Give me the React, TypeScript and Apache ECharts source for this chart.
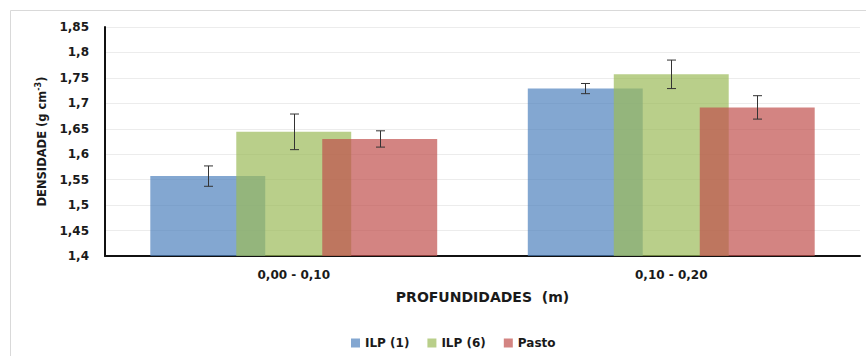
import React, { useEffect, useRef } from "react";
import * as echarts from "echarts";

const categories = ["0,00 - 0,10", "0,10 - 0,20"];
const seriesNames = ["ILP (1)", "ILP (6)", "Pasto"];
const ilp1 = [1.557, 1.729];
const ilp1Err = [0.02, 0.01];
const ilp6 = [1.644, 1.757];
const ilp6Err = [0.035, 0.028];
const pasto = [1.63, 1.692];
const pastoErr = [0.016, 0.023];
const yTicks = { min: 1.4, max: 1.85, interval: 0.05 };

const colors = ["rgba(79,129,189,0.7)", "rgba(155,187,89,0.7)", "rgba(192,80,77,0.7)"];
const FONT = "DejaVu Sans";
const CAT_GAP = 0.24;
const BAR_GAP = -0.252;

export default function App() {
  const ref = useRef<HTMLDivElement>(null);
  useEffect(() => {
    if (!ref.current) return;
    const chart = echarts.init(ref.current, undefined, { renderer: "svg" });
    const values = [ilp1, ilp6, pasto];
    const errs = [ilp1Err, ilp6Err, pastoErr];
    const errData: number[][] = [];
    values.forEach((vals, k) => {
      vals.forEach((v, i) => {
        errData.push([i, v - errs[k][i], v + errs[k][i], k]);
      });
    });
    chart.setOption({
      animation: false,
      backgroundColor: "#fff",
      textStyle: { fontFamily: FONT },
      grid: { left: 105, right: 6, top: 27, bottom: 100, containLabel: false },
      graphic: [
        { type: "line", shape: { x1: 10.5, y1: 10.5, x2: 866, y2: 10.5 }, style: { stroke: "#d9d9d9", lineWidth: 1 } },
        { type: "line", shape: { x1: 10.5, y1: 10.5, x2: 10.5, y2: 356 }, style: { stroke: "#d9d9d9", lineWidth: 1 } },
      ],
      legend: {
        data: seriesNames,
        left: 346,
        top: 332,
        itemWidth: 9,
        itemHeight: 9,
        itemGap: 18,
        icon: "rect",
        textStyle: { fontFamily: FONT, fontWeight: "bold", fontSize: 12, color: "#1a1a1a" },
      },
      xAxis: {
        type: "category",
        data: categories,
        name: "PROFUNDIDADES  (m)",
        nameLocation: "middle",
        nameGap: 34,
        nameTextStyle: { fontFamily: FONT, fontWeight: "bold", fontSize: 14, color: "#1a1a1a" },
        axisLine: { lineStyle: { color: "#111", width: 2 } },
        axisTick: { show: false },
        axisLabel: { fontFamily: FONT, fontWeight: "bold", fontSize: 12, color: "#1a1a1a", margin: 13 },
      },
      yAxis: {
        type: "value",
        min: yTicks.min,
        max: yTicks.max,
        interval: yTicks.interval,
        name: "{a|DENSIDADE (g cm}{s|-3}{a|)}",
        nameLocation: "middle",
        nameGap: 55,
        nameRotate: 90,
        nameTextStyle: {
          rich: {
            a: { fontFamily: FONT, fontWeight: "bold", fontSize: 11.5, color: "#1a1a1a", lineHeight: 16 },
            s: { fontFamily: FONT, fontWeight: "bold", fontSize: 8, color: "#1a1a1a", verticalAlign: "top", lineHeight: 16, padding: [0, 0, 6, 0] },
          },
        },
        axisLine: { show: true, lineStyle: { color: "#111", width: 2 } },
        axisTick: { show: false },
        splitLine: { lineStyle: { color: "#ececec", width: 1 } },
        axisLabel: {
          fontFamily: FONT,
          fontWeight: "bold",
          fontSize: 12,
          color: "#1a1a1a",
          margin: 16,
          formatter: (v: number) => String(Math.round(v * 100) / 100).replace(".", ","),
        },
      },
      series: [
        ...seriesNames.map((name, k) => ({
          name,
          type: "bar",
          data: values[k],
          barGap: `${BAR_GAP * 100}%`,
          barCategoryGap: `${CAT_GAP * 100}%`,
          itemStyle: { color: colors[k] },
          z: 2,
        })),
        {
          type: "custom",
          z: 10,
          silent: true,
          data: errData,
          renderItem: (params: any, api: any) => {
            const cat = api.value(0);
            const lo = api.coord([cat, api.value(1)]);
            const hi = api.coord([cat, api.value(2)]);
            const k = api.value(3);
            const band = api.size([1, 0])[0];
            const bw = (band * (1 - CAT_GAP)) / (3 + 2 * BAR_GAP);
            const step = bw * (1 + BAR_GAP);
            const x = Math.round(lo[0] + (k - 1) * step) + 0.5;
            const cap = 4.5;
            const st = { stroke: "#333", lineWidth: 1 };
            return {
              type: "group",
              children: [
                { type: "line", shape: { x1: x, y1: lo[1], x2: x, y2: hi[1] }, style: st },
                { type: "line", shape: { x1: x - cap, y1: lo[1], x2: x + cap, y2: lo[1] }, style: st },
                { type: "line", shape: { x1: x - cap, y1: hi[1], x2: x + cap, y2: hi[1] }, style: st },
              ],
            };
          },
        },
      ],
    });
    return () => chart.dispose();
  }, []);
  return <div ref={ref} style={{ position: "fixed", left: 0, top: 0, width: 866, height: 356 }} />;
}
